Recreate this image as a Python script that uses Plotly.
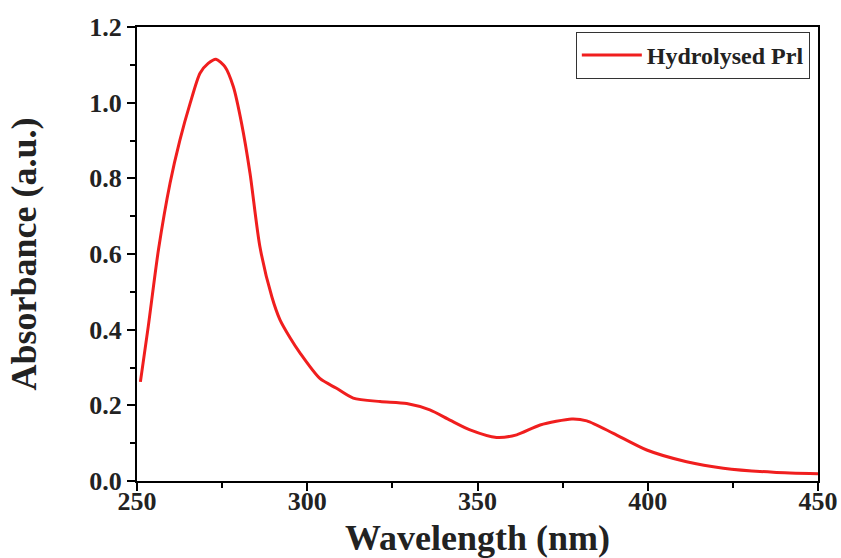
import plotly.graph_objects as go

wavelength = [251, 253.3, 256.3, 259.7, 262.6, 265.6, 268.5, 270.9, 273.2, 275.8, 278.3,
              280.7, 283.2, 286.1, 289.6, 292.0, 295.0, 297.9, 303.7, 308.6, 313.5,
              321.4, 329.2, 336.0, 341.9, 347.8, 355.6, 361.5, 368.4, 377.7, 382.1,
              389.9, 399.7, 411.4, 422.2, 436.9, 450]
absorbance = [0.262, 0.408, 0.611, 0.787, 0.901, 0.998, 1.078, 1.104, 1.115, 1.095, 1.042,
              0.946, 0.813, 0.619, 0.487, 0.426, 0.378, 0.338, 0.271, 0.245, 0.219,
              0.210, 0.205, 0.188, 0.161, 0.135, 0.115, 0.122, 0.148, 0.164, 0.159,
              0.126, 0.082, 0.051, 0.034, 0.023, 0.019]

x_ticks = [250, 300, 350, 400, 450]
y_ticks = [0.0, 0.2, 0.4, 0.6, 0.8, 1.0, 1.2]

font_family = "Liberation Serif"

fig = go.Figure()
fig.add_trace(go.Scatter(
    x=wavelength, y=absorbance, mode="lines", name="<b>Hydrolysed Prl</b>",
    line=dict(color="#f01e1e", width=3, shape="spline", smoothing=0.7),
))

axis_common = dict(
    showline=True, linecolor="black", linewidth=2, mirror=True,
    ticks="outside", ticklen=8, tickwidth=2, tickcolor="black",
    showgrid=False, zeroline=False, automargin=False,
    tickfont=dict(family=font_family, size=26, color="#222"),
)

fig.update_xaxes(
    range=[250, 450], tickvals=x_ticks, ticktext=[f"<b>{v}</b>" for v in x_ticks],
    minor=dict(dtick=25, tick0=250, ticks="outside", ticklen=5, tickwidth=2, tickcolor="black"),
    title=dict(text="<b>Wavelength (nm)</b>", font=dict(family=font_family, size=36, color="#222"), standoff=12),
    ticklabelstandoff=-12,
    **axis_common,
)
fig.update_yaxes(
    range=[0, 1.2], tickvals=y_ticks, ticktext=[f"<b>{v:.1f}</b>" for v in y_ticks],
    minor=dict(dtick=0.1, tick0=0, ticks="outside", ticklen=5, tickwidth=2, tickcolor="black"),
    title=dict(text="<b>Absorbance (a.u.)</b>", font=dict(family=font_family, size=36, color="#222"), standoff=42),
    **axis_common,
)

fig.update_layout(
    width=841, height=558,
    margin=dict(l=137, r=23, t=27, b=77),
    paper_bgcolor="white", plot_bgcolor="white",
    showlegend=True,
    legend=dict(
        x=0.988, y=0.989, xanchor="right", yanchor="top",
        bordercolor="#333", borderwidth=1, bgcolor="rgba(255,255,255,0.9)",
        font=dict(family=font_family, size=24, color="#222"),
        itemwidth=60, tracegroupgap=0,
    ),
)

fig.write_html(
    "out.html",
    config={"displayModeBar": False},
    post_script="document.body.style.margin='0';document.body.style.overflow='hidden';",
)
